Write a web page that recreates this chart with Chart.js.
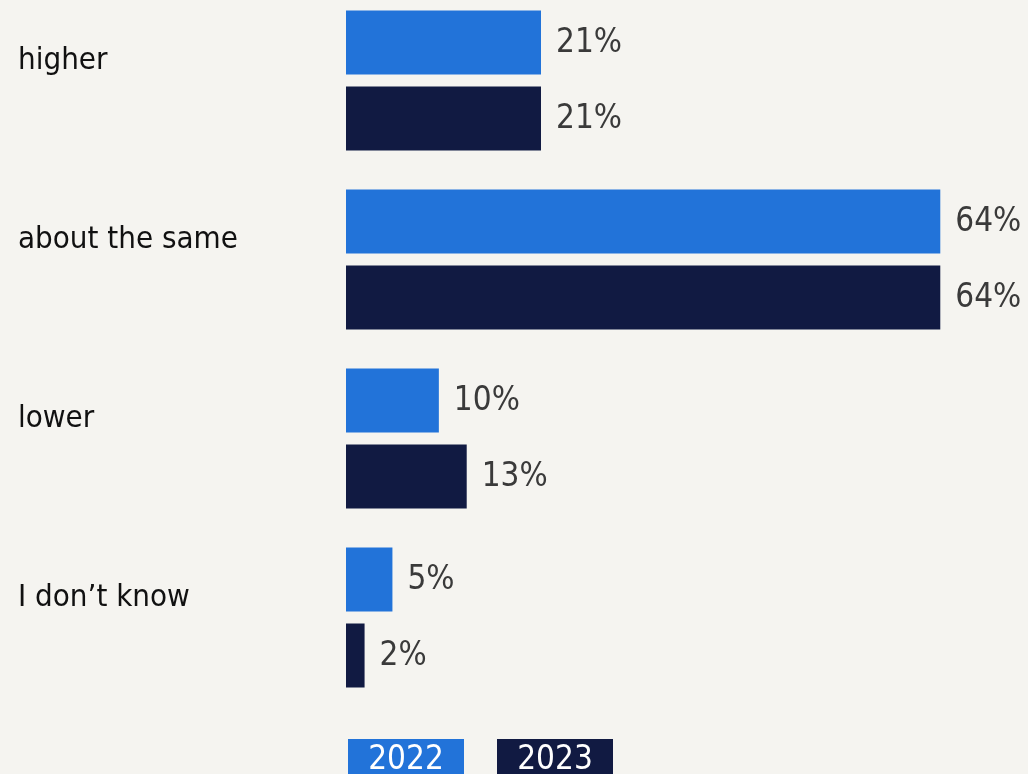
<!DOCTYPE html>
<html>
<head>
<meta charset="utf-8">
<script src="https://cdn.jsdelivr.net/npm/chart.js@4.4.0/dist/chart.umd.min.js"></script>
<style>
  html, body { margin: 0; padding: 0; background: #f5f4f0; }
  #wrap { position: relative; width: 1028px; height: 774px; overflow: hidden; }
  #box { position: absolute; left: 0; top: -9px; width: 1028px; height: 783px; }
</style>
</head>
<body>
<div id="wrap"><div id="box"><canvas id="myChart"></canvas></div></div>
<script>
const categories = ['higher', 'about the same', 'lower', 'I don\u2019t know'];
const seriesNames = ['2022', '2023'];
const values2022 = [21, 64, 10, 5];
const values2023 = [21, 64, 13, 2];

const blue = '#2273d9';
const navy = '#111a42';
const labelFont = "'DejaVu Sans Condensed', 'DejaVu Sans', sans-serif";

// value labels to the right of each bar
const valueLabels = {
  id: 'valueLabels',
  afterDatasetsDraw(chart) {
    const ctx = chart.ctx;
    ctx.save();
    ctx.font = '33px ' + labelFont;
    ctx.fillStyle = '#3a3a3a';
    ctx.textAlign = 'left';
    ctx.textBaseline = 'middle';
    chart.data.datasets.forEach((ds, i) => {
      chart.getDatasetMeta(i).data.forEach((bar, j) => {
        ctx.fillText(ds.data[j] + '%', bar.x + 15, bar.y + 1);
      });
    });
    ctx.restore();
  }
};

// boxed legend at the bottom
const boxLegend = {
  id: 'boxLegend',
  afterDraw(chart) {
    const ctx = chart.ctx;
    const x0 = chart.scales.x.getPixelForValue(0) + 2;
    ctx.save();
    chart.data.datasets.forEach((ds, i) => {
      const x = x0 + i * 149;
      ctx.fillStyle = ds.backgroundColor;
      ctx.fillRect(x, 748, 116, 40);
      ctx.fillStyle = '#ffffff';
      ctx.font = '33px ' + labelFont;
      ctx.textAlign = 'center';
      ctx.textBaseline = 'top';
      ctx.fillText(ds.label, x + 58, 753);
    });
    ctx.restore();
  }
};

const ctx = document.getElementById('myChart').getContext('2d');

const myChart = new Chart(ctx, {
  type: 'bar',
  data: {
    labels: categories.map(c => [c, '']),
    datasets: [{
      label: seriesNames[0],
      data: values2022,
      backgroundColor: blue,
      categoryPercentage: 0.85,
      barPercentage: 0.84
    }, {
      label: seriesNames[1],
      data: values2023,
      backgroundColor: navy,
      categoryPercentage: 0.85,
      barPercentage: 0.84
    }]
  },
  options: {
    indexAxis: 'y',
    responsive: true,
    maintainAspectRatio: false,
    animation: false,
    layout: {
      padding: { left: 18, right: 32, top: 0, bottom: 67 }
    },
    plugins: {
      legend: { display: false },
      tooltip: { enabled: false }
    },
    scales: {
      x: {
        display: false,
        min: 0,
        max: 70
      },
      y: {
        grid: { display: false },
        border: { display: false },
        afterFit(scale) {
          scale.width = 328;
          scale.paddingTop = 0;
          scale.paddingBottom = 0;
        },
        ticks: {
          crossAlign: 'far',
          padding: 0,
          color: '#111111',
          font: {
            size: 31,
            family: labelFont,
            lineHeight: '40px'
          }
        }
      }
    }
  },
  plugins: [valueLabels, boxLegend]
});
</script>
</body>
</html>
